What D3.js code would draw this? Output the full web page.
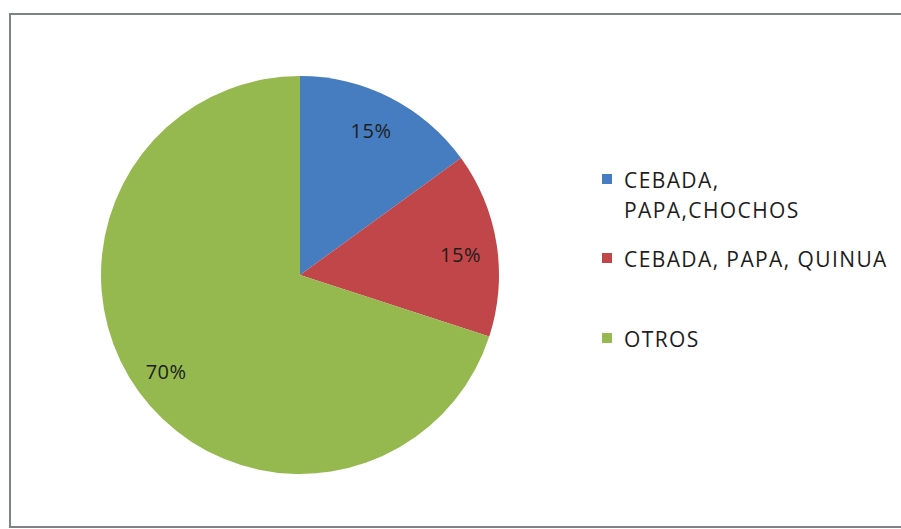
<!DOCTYPE html>
<html>
<head>
<meta charset="utf-8">
<script src="https://cdn.jsdelivr.net/npm/d3@7"></script>
<style>
  body { margin: 0; background: #fff; }
  svg { display: block; }
</style>
</head>
<body>
<div id="chart"></div>
<script>
var categories = ["CEBADA, PAPA,CHOCHOS", "CEBADA, PAPA, QUINUA", "OTROS"];
var legendLines = [["CEBADA,", "PAPA,CHOCHOS"], ["CEBADA, PAPA, QUINUA"], ["OTROS"]];
var values = [15, 15, 70];
var colors = ["#467dc0", "#c0464a", "#96b94f"];

var width = 901,
  height = 529;
var cx = 300,
  cy = 275,
  radius = 199;

var svg = d3
  .select("#chart")
  .append("svg")
  .attr("width", width)
  .attr("height", height);

// chart frame (right side runs off the picture)
svg
  .append("rect")
  .attr("x", 10)
  .attr("y", 14)
  .attr("width", 1000)
  .attr("height", 513)
  .attr("fill", "none")
  .attr("stroke", "#7f8386")
  .attr("stroke-width", 2);

var pie = d3.pie().sort(null).value(function(d) { return d; });
var arcs = pie(values);
var arc = d3.arc().innerRadius(0).outerRadius(radius);
var labelArc = d3.arc().innerRadius(radius * 0.72).outerRadius(radius * 0.72);

var g = svg.append("g").attr("transform", "translate(" + cx + "," + cy + ")");

g.selectAll("path")
  .data(arcs)
  .enter()
  .append("path")
  .attr("d", arc)
  .attr("fill", function(d, i) { return colors[i]; });

// nudge labels to where Excel placed them
var labelOffsets = [[6, -16], [19, 2], [-18, 13]];
g.selectAll("text")
  .data(arcs)
  .enter()
  .append("text")
  .attr("transform", function(d, i) {
    var c = labelArc.centroid(d);
    return "translate(" + (c[0] + labelOffsets[i][0]) + "," + (c[1] + labelOffsets[i][1]) + ")";
  })
  .attr("text-anchor", "middle")
  .attr("dy", "0.35em")
  .attr("font-family", "Open Sans, sans-serif")
  .attr("font-size", "20px")
  .attr("letter-spacing", "0.5px")
  .attr("fill", "#1d1d1d")
  .text(function(d) { return d.data + "%"; });

// legend
var legendY = [179, 258, 338];
var legend = svg
  .append("g")
  .selectAll("g")
  .data(categories)
  .enter()
  .append("g")
  .attr("transform", function(d, i) { return "translate(602," + legendY[i] + ")"; });

legend
  .append("rect")
  .attr("x", 0)
  .attr("y", -5)
  .attr("width", 10)
  .attr("height", 10)
  .attr("fill", function(d, i) { return colors[i]; });

legend
  .append("text")
  .attr("font-family", "Open Sans, sans-serif")
  .attr("font-size", "21px")
  .attr("letter-spacing", "1.4px")
  .attr("fill", "#1d1d1d")
  .selectAll("tspan")
  .data(function(d, i) { return legendLines[i]; })
  .enter()
  .append("tspan")
  .attr("x", 22)
  .attr("y", function(d, j) { return 9 + j * 30; })
  .text(function(d) { return d; });
</script>
</body>
</html>
